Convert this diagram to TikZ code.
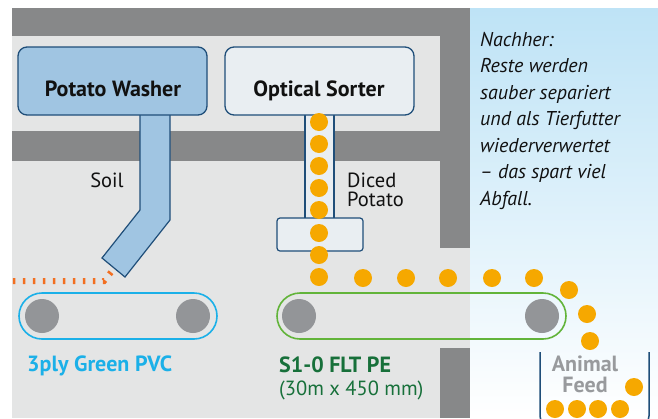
\documentclass[tikz,border=0pt]{standalone}
\usepackage{fontspec}
\setmainfont{PT Sans}
\definecolor{bgl}{HTML}{E4E5E5}
\definecolor{bgd}{HTML}{878889}
\definecolor{paneltop}{HTML}{BEE3F6}
\definecolor{edge}{HTML}{1F4E79}
\definecolor{washfill}{HTML}{A0C5E2}
\definecolor{sortfill}{HTML}{E9EEF2}
\definecolor{dotc}{HTML}{F6A800}
\definecolor{dashc}{HTML}{F26F21}
\definecolor{cyanb}{HTML}{1BB0E8}
\definecolor{greenb}{HTML}{62B43A}
\definecolor{dgreen}{HTML}{17703A}
\definecolor{rollc}{HTML}{939598}
\definecolor{feedgray}{HTML}{989A9D}
\definecolor{ink}{HTML}{111111}
\begin{document}
\begin{tikzpicture}[x=1pt,y=-1pt,
  machine/.style={draw=edge,line width=1.3pt,rounded corners=9pt,minimum width=189pt,minimum height=68pt,inner sep=0pt,rectangle},
  machlabel/.style={font=\fontsize{22}{24}\selectfont\bfseries,anchor=base,inner sep=0pt,text=ink},
  plainlabel/.style={font=\fontsize{20.5}{19}\selectfont,inner sep=0pt,text=ink},
  notetext/.style={font=\fontsize{20}{26.5}\selectfont\itshape,inner sep=0pt,align=left,text=ink},
  ball/.style={fill=dotc,circle,minimum size=18pt,inner sep=0pt},
  belt/.style={line width=1.6pt,rounded corners=23pt,minimum height=46pt,inner sep=0pt,rectangle},
  roll/.style={circle,fill=rollc,minimum size=34pt,inner sep=0pt},
  chute/.style={draw=edge,line width=1.2pt},
  spill/.style={draw=dashc,line width=6pt,dash pattern=on 2.5pt off 7.5pt,dash phase=9.25pt}
]
\useasboundingbox (0,0) rectangle (658,418);
% background
\fill[bgl] (12,8) rectangle (470,418);
\shade[top color=paneltop,bottom color=white] (470,8) rectangle (658,418);
\fill[bgd] (12,8) rectangle (470,36);
\fill[bgd] (12,131) rectangle (470,161);
\fill[bgd] (440,8) rectangle (470,248);
\fill[bgd] (440,348) rectangle (470,418);
% belts
\node[belt,draw=cyanb,minimum width=198pt] (belt1) at (118,316) {};
\node[belt,draw=greenb,minimum width=289pt] (belt2) at (421.5,316) {};
\node[roll] (r1) at (42,316) {};
\node[roll] (r2) at (193,316) {};
\node[roll] (r3) at (299,316) {};
\node[roll] (r4) at (542,316) {};
% chutes
\draw[chute,fill=washfill] (140,113) -- (140,210) -- (102,258) -- (125,277) -- (170,220) -- (170,113);
\draw[chute,fill=sortfill] (305,113) rectangle (334,219);
\draw[chute,fill=sortfill,rounded corners=3pt] (277,218) rectangle (363,251);
% machines
\node[machine,fill=washfill] (washer) at (112.5,81) {};
\node[machine,fill=sortfill] (sorter) at (319.5,81) {};
\node[machlabel] (washerlbl) at (113,96) {Potato Washer};
\node[machlabel] (sorterlbl) at (319,96) {Optical Sorter};
% soil spill
\coordinate (spillend) at (113.4,269.3);
\coordinate (spillcorner) at (104,281);
\coordinate (spillleft) at (12,281);
\draw[spill] (spillleft) -- (spillcorner) -- (spillend);
% potato dots
\foreach \i/\yy in {1/122,2/144,3/166,4/188,5/210,6/233,7/255,8/277}
  \node[ball] (v\i) at (319,\yy) {};
\foreach \i/\xx in {1/363,2/406,3/448,4/492,5/534}
  \node[ball] (h\i) at (\xx,278) {};
\node[ball] (c1) at (569,290) {};
\node[ball] (c2) at (587,314) {};
\node[ball] (c3) at (590,341) {};
\node[ball] (f1) at (634,387) {};
\foreach \i/\xx in {2/555,3/577,4/598,5/620}
  \node[ball] (f\i) at (\xx,409) {};
% bin
\draw[draw=edge,line width=1.5pt,rounded corners=10pt] (540,352) -- (540,426) -- (649,426) -- (649,352);
% labels
\node[plainlabel,anchor=base] (soil) at (107,187) {Soil};
\node[plainlabel,anchor=north west,align=left] (diced) at (347,173) {Diced\\Potato};
\node[machlabel,anchor=base west,text=cyanb] (pvc) at (27,371) {3ply Green PVC};
\node[machlabel,anchor=base west,text=dgreen] (flt) at (279,372) {S1-0 FLT PE};
\node[plainlabel,anchor=base west,text=dgreen] (fltsize) at (279,395) {(30m x 450 mm)};
\node[machlabel,anchor=north,align=center,text=feedgray,font=\fontsize{22}{21}\selectfont\bfseries] (feed) at (585,356) {Animal\\Feed};
\node[notetext,anchor=north west] (note) at (480,32) {Nachher:\\Reste werden\\sauber separiert\\und als Tierfutter\\wiederverwertet\\– das spart viel\\Abfall.};
\end{tikzpicture}
\end{document}
